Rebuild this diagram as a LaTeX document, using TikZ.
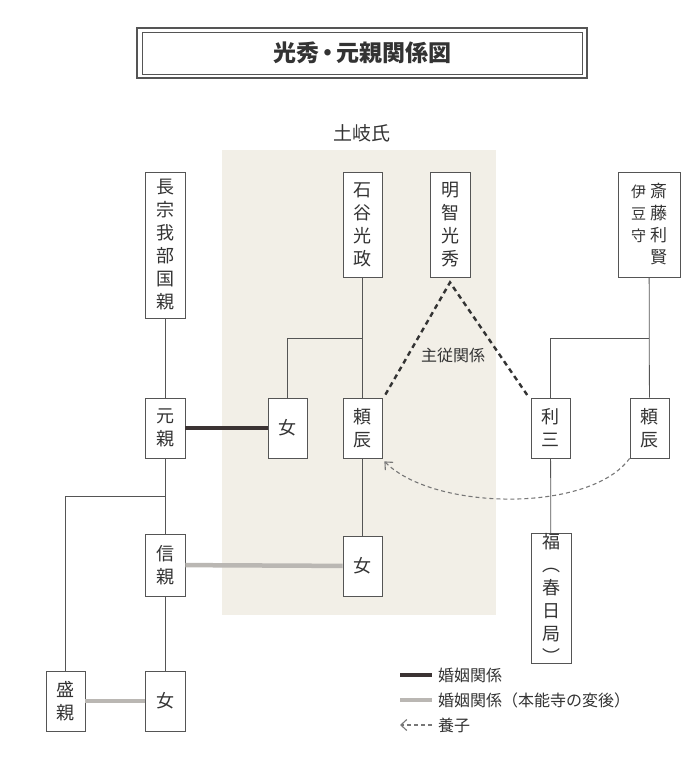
\documentclass[tikz,border=0pt]{standalone}
\usepackage{fontspec}
\setmainfont{Noto Sans CJK JP}
\usetikzlibrary{arrows.meta}
\definecolor{inkgray}{HTML}{333333}
\definecolor{framegray}{HTML}{555555}
\definecolor{shadebg}{HTML}{F2EFE7}
\definecolor{marrydark}{HTML}{3B3333}
\definecolor{marrylight}{HTML}{BAB7B3}
\definecolor{adoptgray}{HTML}{777777}
\newcommand{\boxfont}{\fontsize{18}{23}\selectfont}
\newcommand{\smallboxfont}{\fontsize{15}{22}\selectfont}
\begin{document}
\begin{tikzpicture}[x=1pt,y=-1pt,
    person/.style={draw=framegray,line width=.8pt,fill=white,inner sep=0pt,align=center,font=\boxfont,text=inkgray},
    rel/.style={draw=framegray,line width=.8pt},
    marry/.style={draw=marrydark,line width=4.5pt},
    marrylate/.style={draw=marrylight,line width=4.5pt},
    lord/.style={draw=inkgray,line width=2.4pt,dash pattern=on 5pt off 4pt},
    adopt/.style={draw=adoptgray,line width=1.1pt,dash pattern=on 4pt off 3pt,-{Straight Barb[length=6pt,width=11pt]}},
    note/.style={text=inkgray,inner sep=0pt}]
    \useasboundingbox(0,0)rectangle(695,764);
    % title
    \draw[framegray,line width=1.6pt](137,28)rectangle(587,78);
    \draw[framegray,line width=.6pt](142,32)rectangle(582,74);
    \node[note,font=\fontsize{23}{24}\selectfont\bfseries](title)at(362,53){光秀{\kern-3pt}・{\kern-3pt}元親関係図};
    % Toki clan area
    \fill[shadebg](222,150)rectangle(496,615);
    \node[note,font=\fontsize{19}{22}\selectfont](toki)at(362,133){土岐氏};
    % people
    \node[person,minimum width=40,minimum height=146](kuni)at(165,245){長\\宗\\我\\部\\国\\親};
    \node[person,minimum width=39,minimum height=105](masa)at(362.5,224.5){石\\谷\\光\\政};
    \node[person,minimum width=40,minimum height=105](hide)at(450,224.5){明\\智\\光\\秀};
    \node[person,minimum width=62,minimum height=105](sai)at(649,224.5){%
        \parbox[t]{16pt}{\centering\smallboxfont 伊\\豆\\守}\hspace{3pt}%
        \parbox[t]{18pt}{\centering\fontsize{17}{22}\selectfont 斎\\藤\\利\\賢}};
    \node[person,minimum width=40,minimum height=60](moto)at(165,428){元\\親};
    \node[person,minimum width=39,minimum height=60](onnaA)at(287.5,428){女};
    \node[person,minimum width=39,minimum height=60](yoriL)at(362.5,428){頼\\辰};
    \node[person,minimum width=39,minimum height=60](toshi)at(550.5,428){利\\三};
    \node[person,minimum width=39,minimum height=60](yoriR)at(649.5,428){頼\\辰};
    \node[person,minimum width=40,minimum height=62](nobu)at(165,565){信\\親};
    \node[person,minimum width=39,minimum height=60](onnaB)at(362.5,566){女};
    \node[person,minimum width=40,minimum height=127](fuku)at(551,598.5){福\\︵\\春\\日\\局\\︶};
    \node[person,minimum width=39,minimum height=60](mori)at(65.5,701){盛\\親};
    \node[person,minimum width=40,minimum height=60](onnaC)at(165,701){女};
    % parent lines
    \coordinate(jMasa)at(362.5,338);
    \coordinate(jSai)at(649,338);
    \coordinate(jMoto)at(165,496);
    \draw[rel](kuni)--(moto);
    \draw[rel](masa)--(yoriL);
    \draw[rel](jMasa)-|(onnaA.north);
    \draw[rel](sai)--(yoriR);
    \draw[rel](jSai)-|(toshi.north);
    \draw[rel](moto)--(nobu);
    \draw[rel](jMoto)-|(mori.north);
    \draw[rel](nobu)--(onnaC);
    \draw[rel](yoriL)--(onnaB);
    \draw[rel](toshi)--(fuku);
    % marriages
    \draw[marry](moto)--(onnaA);
    \draw[marrylate](nobu)--(onnaB);
    \draw[marrylate](mori)--(onnaC);
    % lord and retainer
    \coordinate(apex)at([yshift=-5pt]hide.south);
    \draw[lord]([shift={(3,-3)}]yoriL.north east)--(apex)--([shift={(-3,-2)}]toshi.north west);
    \node[note,font=\fontsize{16}{18}\selectfont](shuju)at(453,355){主従関係};
    % adoption
    \draw[adopt](yoriR.south west)..controls(590,513)and(434,511)..([shift={(2,3)}]yoriL.south east);
    % legend
    \node[note,anchor=west,font=\fontsize{16}{18}\selectfont](legA)at(438,675){婚姻関係};
    \node[note,anchor=west,font=\fontsize{16}{18}\selectfont](legB)at(438,700){婚姻関係（本能寺の変後）};
    \node[note,anchor=west,font=\fontsize{16}{18}\selectfont](legC)at(438,725){養子};
    \coordinate(legAs)at(400,675);
    \coordinate(legBs)at(400,700);
    \coordinate(legCs)at(400,725);
    \draw[marry](legAs)--([xshift=-6pt]legA.west);
    \draw[marrylate](legBs)--([xshift=-6pt]legB.west);
    \draw[adopt]([xshift=-6pt]legC.west)--(legCs);
\end{tikzpicture}
\end{document}
